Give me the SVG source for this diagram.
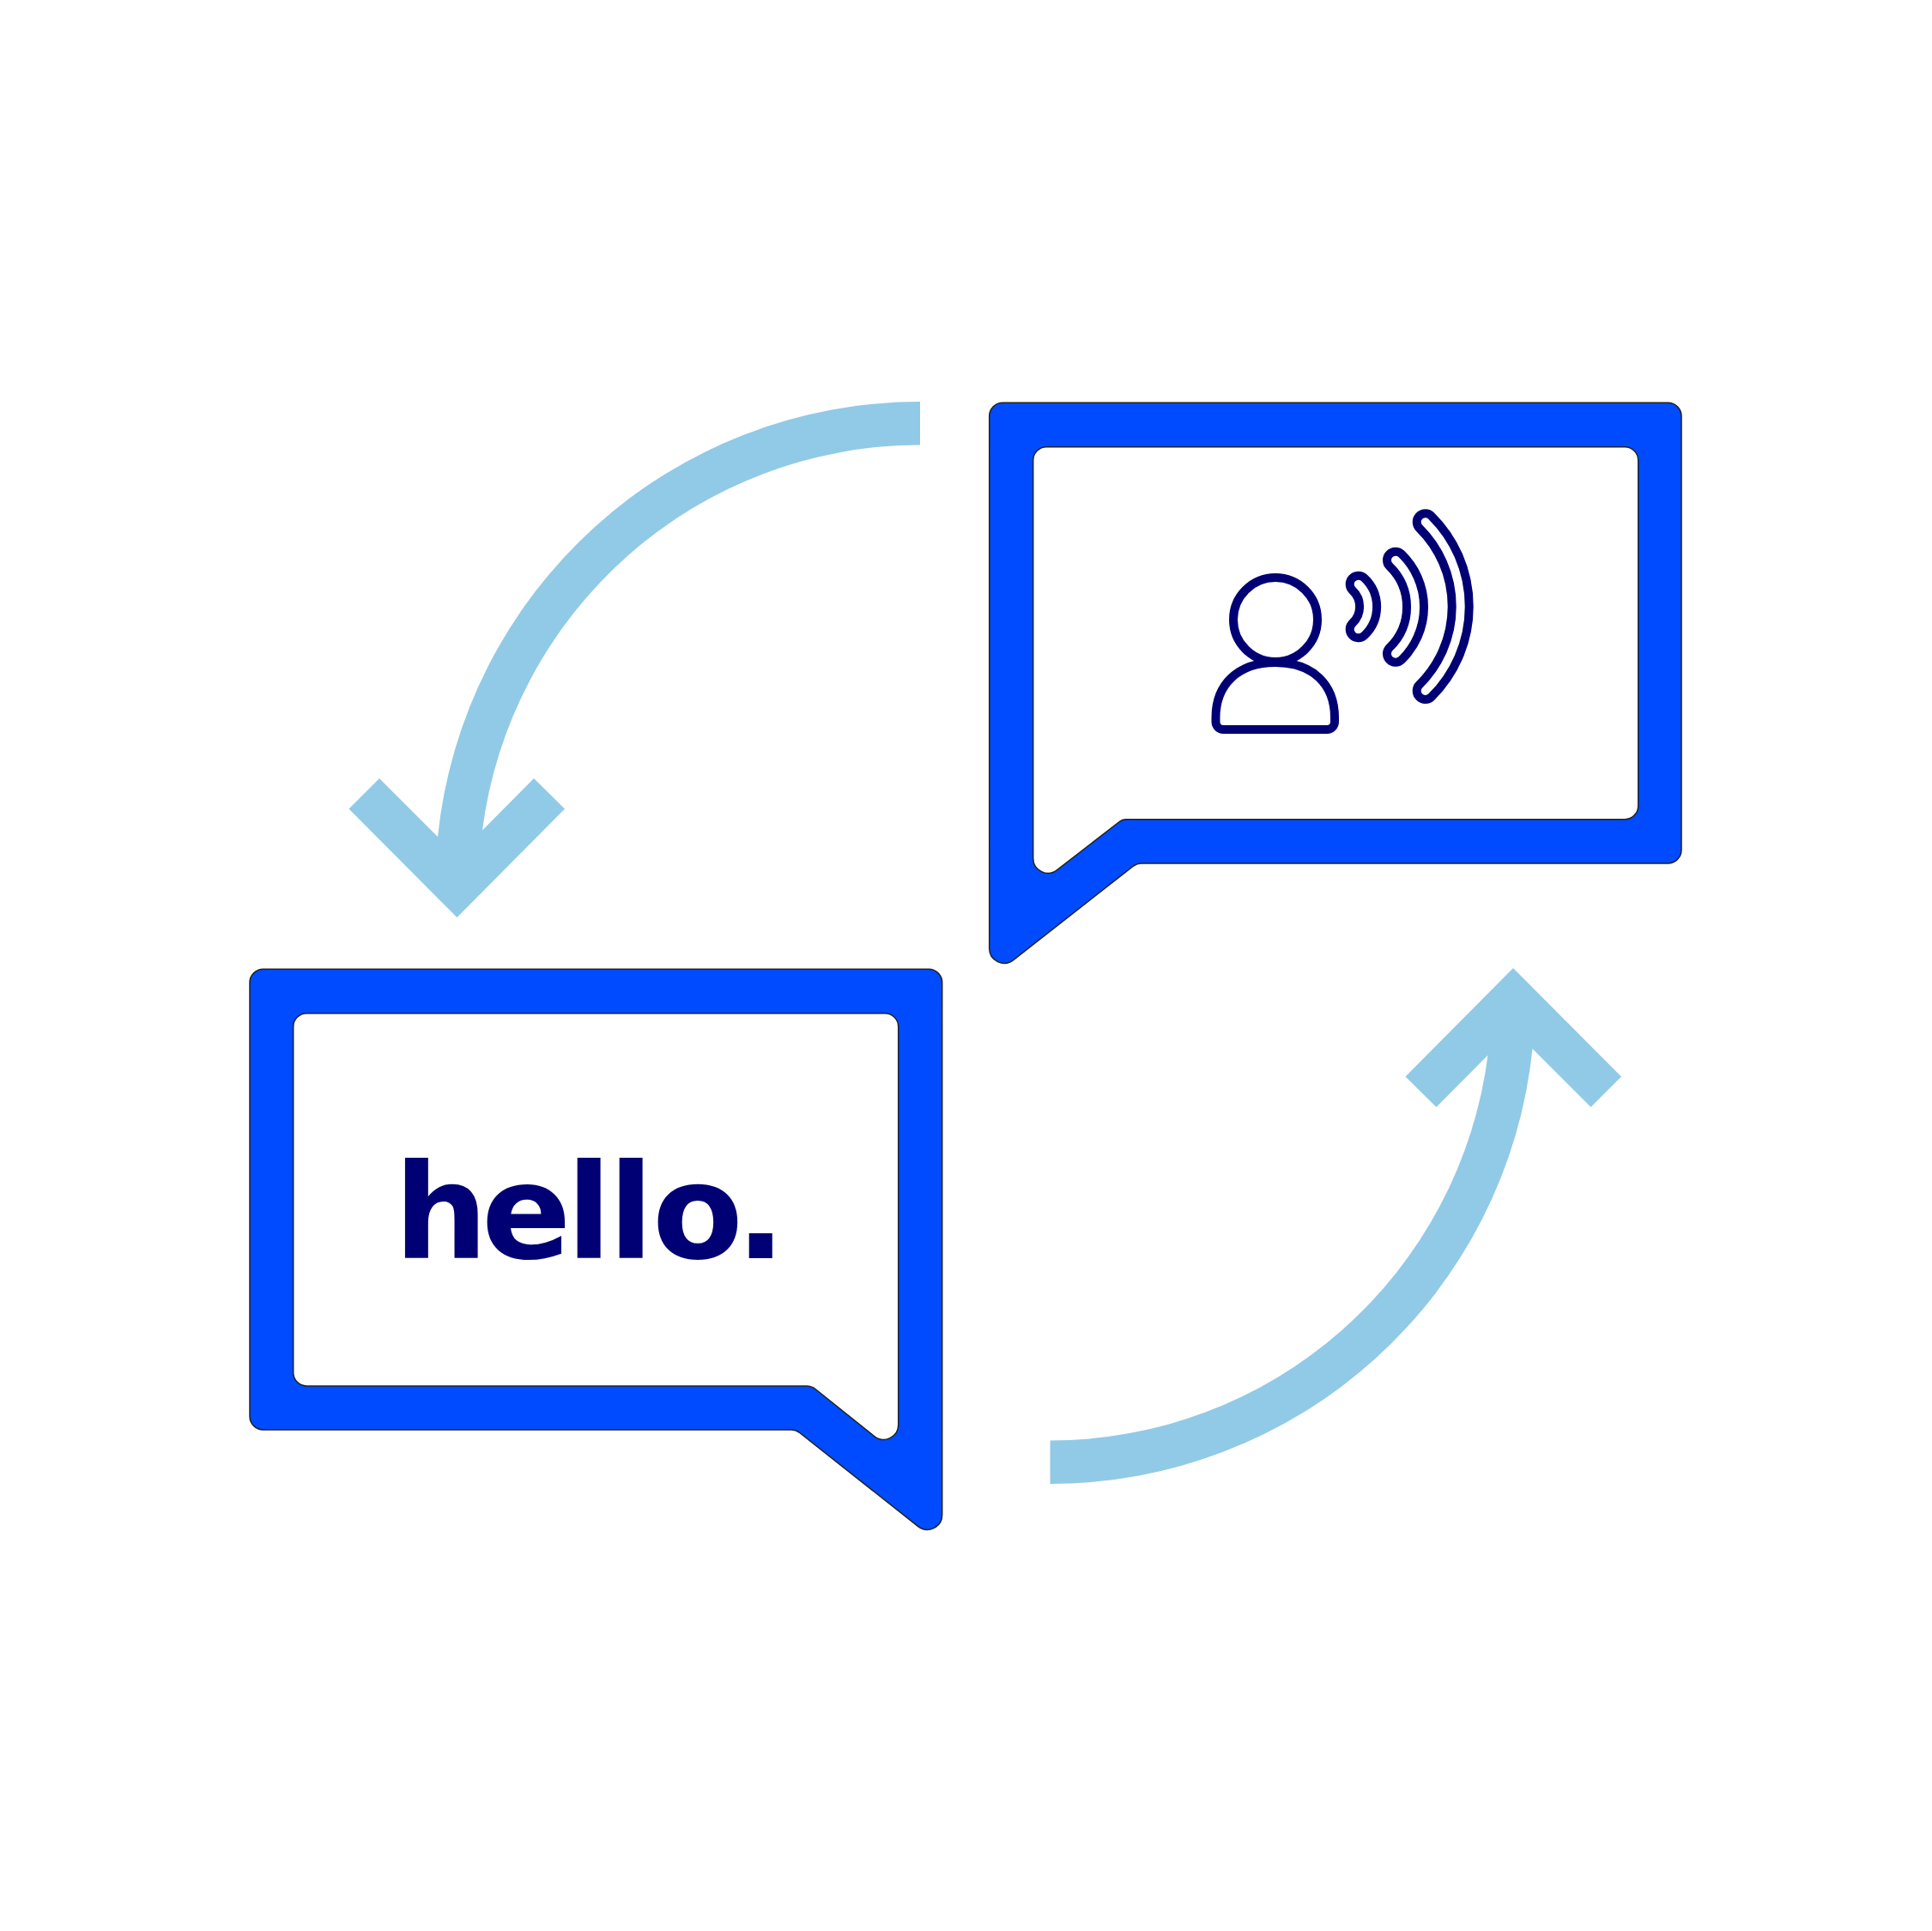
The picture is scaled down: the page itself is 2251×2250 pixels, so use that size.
<svg xmlns="http://www.w3.org/2000/svg" width="2251" height="2250" viewBox="0 0 2251 2250">
<style>
.bubble{fill:#004bff;fill-rule:evenodd;stroke:#222;stroke-width:1.5}
.arrow{fill:#91cae6}
.line{fill:none;stroke:#000074;stroke-width:10;stroke-linejoin:round}
.waveO{fill:none;stroke:#000074;stroke-width:30;stroke-linecap:round}
.waveI{fill:none;stroke:#fff;stroke-width:10;stroke-linecap:round}
.hello{font-family:"DejaVu Sans","Liberation Sans",sans-serif;font-weight:700;font-size:154px;fill:#000074}
</style>
<rect width="2251" height="2250" fill="#fff"/>
<g id="connectors">
<path class="arrow" d="M1072 468A565 565 0 0 0 510 975L442 907L406.500 942.500L532.500 1069L658 942.500L622 907L562 967.500A514.500 514.500 0 0 1 1072 518.500Z"/>
<path class="arrow" d="M1223.500 1729A565 565 0 0 0 1785.500 1222L1853.500 1290L1889 1254.500L1763 1128L1637.500 1254.500L1673.500 1290L1733.500 1229.500A514.500 514.500 0 0 1 1223.500 1678.500Z"/>
</g>
<g id="bubble-speech">
<path class="bubble" d="M1168.400 469.300H1943.300a15.700 15.700 0 0 1 15.700 15.700V990.300a15.700 15.700 0 0 1-15.700 15.700H1329.500Q1325 1006 1320 1009.500L1180.700 1118.600A17.300 17.300 0 0 1 1152.700 1105V485a15.700 15.700 0 0 1 15.700-15.700ZM1219.400 520.700H1893a15.700 15.700 0 0 1 15.700 15.700V939a15.700 15.700 0 0 1-15.700 15.700H1312Q1307.500 954.700 1303.500 958L1231.700 1013.600A17.300 17.300 0 0 1 1203.700 1000V536.400a15.700 15.700 0 0 1 15.700-15.700Z"/>
<circle class="line" cx="1486" cy="722" r="49"/>
<path class="line" d="M1486 772C1442 772 1416.500 798 1416.500 836V841a9 9 0 0 0 9 9H1546a9 9 0 0 0 9-9V836C1555 798 1530 772 1486 772Z"/>
<path class="waveO" d="M1582.700 680.700A36 36 0 0 1 1582.700 733.300M1626 652.700A76 76 0 0 1 1626 761.700M1660.700 608.300A138.400 138.400 0 0 1 1660.700 805"/>
<path class="waveI" d="M1582.700 680.700A36 36 0 0 1 1582.700 733.300M1626 652.700A76 76 0 0 1 1626 761.700M1660.700 608.300A138.400 138.400 0 0 1 1660.700 805"/>
</g>
<g id="bubble-hello">
<path class="bubble" d="M306.700 1129.300H1082a15.700 15.700 0 0 1 15.700 15.700V1765A17.300 17.300 0 0 1 1069.700 1778.600L931.700 1669.500Q927 1666 922 1666H306.700a15.700 15.700 0 0 1-15.700-15.700V1145a15.700 15.700 0 0 1 15.700-15.700ZM357.400 1180.700H1031a15.700 15.700 0 0 1 15.700 15.700V1660A17.300 17.300 0 0 1 1018.700 1673.600L950 1618.500Q945.500 1615 940 1615H357.400a15.700 15.700 0 0 1-15.700-15.700V1196.400a15.700 15.700 0 0 1 15.700-15.700Z"/>
<text class="hello" x="459 561 659.700 708.700 760 857" y="1466">hello.</text>
</g>
</svg>
